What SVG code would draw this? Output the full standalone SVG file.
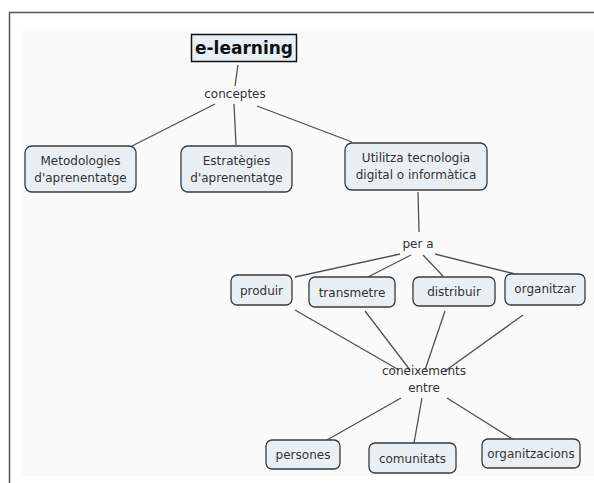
<svg xmlns="http://www.w3.org/2000/svg" width="594" height="483" viewBox="0 0 594 483">
<style>
text{font-family:"DejaVu Sans",Verdana,sans-serif;font-size:12px;fill:#333;text-anchor:middle}
.n rect{fill:#e9eff3;stroke:#3a3a3a;stroke-width:1.3}
.c line{stroke:#505050;stroke-width:1.3}
</style>
<rect x="0" y="0" width="594" height="483" fill="#fff"/>
<rect x="22" y="30" width="572" height="446" fill="#fafafa"/>
<path d="M9.5 483 V12.5 H594" fill="none" stroke="#555" stroke-width="1.5"/>
<g class="c" id="connectors">
<line x1="238" y1="65" x2="235" y2="86"/>
<line x1="215" y1="104" x2="132" y2="146"/>
<line x1="234" y1="104" x2="236" y2="145"/>
<line x1="257" y1="106" x2="352" y2="142"/>
<line x1="418" y1="192" x2="419" y2="232"/>
<line x1="400" y1="254" x2="295" y2="277"/>
<line x1="411" y1="255" x2="366" y2="278"/>
<line x1="423" y1="255" x2="443" y2="276"/>
<line x1="435" y1="254" x2="515" y2="274"/>
<line x1="295" y1="310" x2="399" y2="370"/>
<line x1="365" y1="311" x2="410" y2="370"/>
<line x1="445" y1="311" x2="425" y2="370"/>
<line x1="523" y1="315" x2="445" y2="371"/>
<line x1="401" y1="398" x2="327" y2="440"/>
<line x1="422" y1="398" x2="414" y2="443"/>
<line x1="447" y1="398" x2="514" y2="440"/>
</g>
<g id="elearning"><rect x="191.5" y="34.5" width="105" height="27" fill="#e9eff3" stroke="#111" stroke-width="1.5"/><text x="244" y="54" style="font-weight:bold;font-size:17px;fill:#111">e-learning</text></g>
<g id="conceptes"><text x="235" y="98">conceptes</text></g>
<g id="metodologies" class="n"><rect x="25" y="146" width="111" height="46" rx="7"/><text x="80.5" y="165">Metodologies</text><text x="80.5" y="182">d'aprenentatge</text></g>
<g id="estrategies" class="n"><rect x="181" y="146" width="111" height="46" rx="7"/><text x="236.5" y="165">Estratègies</text><text x="236.5" y="182">d'aprenentatge</text></g>
<g id="utilitza" class="n"><rect x="345" y="143" width="142" height="47" rx="7"/><text x="416" y="162">Utilitza tecnologia</text><text x="416" y="179">digital o informàtica</text></g>
<g id="pera"><text x="418" y="248">per a</text></g>
<g id="produir" class="n"><rect x="231" y="275" width="61" height="30" rx="6"/><text x="261.5" y="295">produir</text></g>
<g id="transmetre" class="n"><rect x="309" y="277" width="86" height="30" rx="6"/><text x="352" y="297">transmetre</text></g>
<g id="distribuir" class="n"><rect x="413" y="277" width="82" height="29" rx="6"/><text x="454" y="296">distribuir</text></g>
<g id="organitzar" class="n"><rect x="505" y="274" width="80" height="31" rx="6"/><text x="545" y="293">organitzar</text></g>
<g id="coneixements"><text x="424" y="375">coneixements</text><text x="424" y="392">entre</text></g>
<g id="persones" class="n"><rect x="266" y="440" width="74" height="29" rx="6"/><text x="303" y="459">persones</text></g>
<g id="comunitats" class="n"><rect x="369" y="443" width="87" height="30" rx="6"/><text x="412.5" y="463">comunitats</text></g>
<g id="organitzacions" class="n"><rect x="482" y="439" width="98" height="29" rx="6"/><text x="531" y="458">organitzacions</text></g>
</svg>
